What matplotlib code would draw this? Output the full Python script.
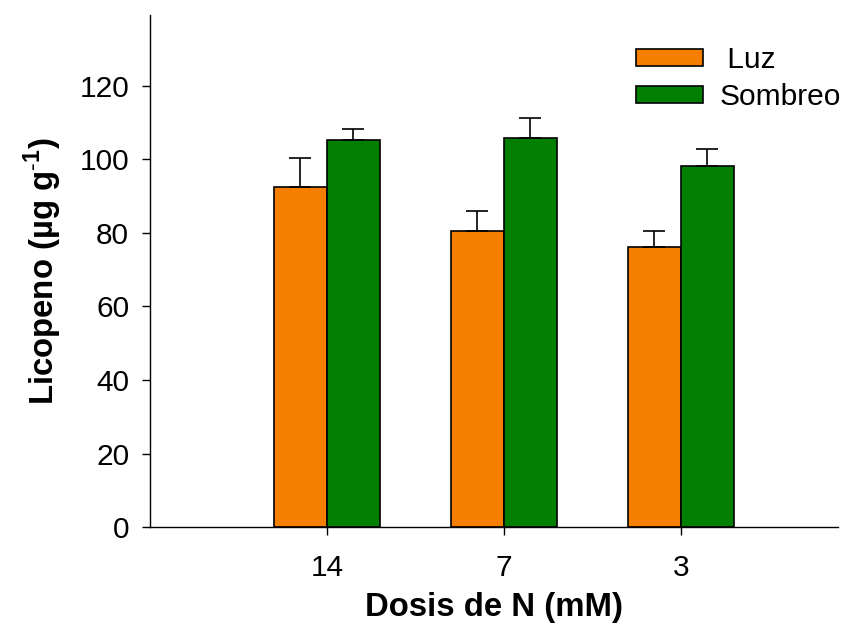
import numpy as np
import matplotlib
matplotlib.use("Agg")
import matplotlib.pyplot as plt

plt.rcParams['font.family'] = ['Liberation Sans', 'DejaVu Sans']
plt.rcParams['mathtext.fontset'] = 'custom'
plt.rcParams['mathtext.rm'] = 'Liberation Sans'
plt.rcParams['mathtext.bf'] = 'Liberation Sans:bold'

# datos
dosis = ['14', '7', '3']
luz = [92.5, 80.6, 76.1]
luz_err = [7.9, 5.3, 4.3]
sombreo = [105.2, 105.8, 98.1]
sombreo_err = [3.1, 5.4, 4.8]

color_luz = '#F77F00'
color_sombreo = '#007F00'

x = np.arange(len(dosis))
ancho = 0.3

fig = plt.figure(figsize=(8.5, 6.24), dpi=100)
ax = fig.add_axes([0.1765, 0.1554, 0.8095, 0.8206])

ax.bar(x - ancho / 2, luz, ancho, color=color_luz, edgecolor='black', linewidth=1.2,
       yerr=[np.zeros(len(luz)), luz_err], capsize=8,
       error_kw=dict(elinewidth=1.2, capthick=1.2, ecolor='black'), label=' Luz')
ax.bar(x + ancho / 2, sombreo, ancho, color=color_sombreo, edgecolor='black', linewidth=1.2,
       yerr=[np.zeros(len(sombreo)), sombreo_err], capsize=8,
       error_kw=dict(elinewidth=1.2, capthick=1.2, ecolor='black'), label='Sombreo')

ax.set_xlim(-1.0, 2.89)
ax.set_ylim(0, 139.3)
ax.set_yticks([0, 20, 40, 60, 80, 100, 120])
ax.set_xticks(x)
ax.set_xticklabels(dosis)

for s in ['top', 'right']:
    ax.spines[s].set_visible(False)
for s in ['left', 'bottom']:
    ax.spines[s].set_linewidth(1)

ax.tick_params(axis='both', direction='out', length=6, width=1, labelsize=21.5)
ax.tick_params(axis='x', pad=13.5)
ax.tick_params(axis='y', pad=9)

ax.set_xlabel('Dosis de N (mM)', fontsize=23.7, fontweight='bold', labelpad=7)
ax.set_ylabel(r'Licopeno (µg g$^{\mathbf{\text{-}1}}$)', fontsize=23.7, fontweight='bold', labelpad=11)

ax.legend(loc='upper left', bbox_to_anchor=(0.706, 0.939), frameon=False, fontsize=21.5,
          handlelength=2.24, handleheight=0.47, handletextpad=0.55, labelspacing=0.3,
          borderpad=0, borderaxespad=0)

fig.savefig('out.png', dpi=100)
